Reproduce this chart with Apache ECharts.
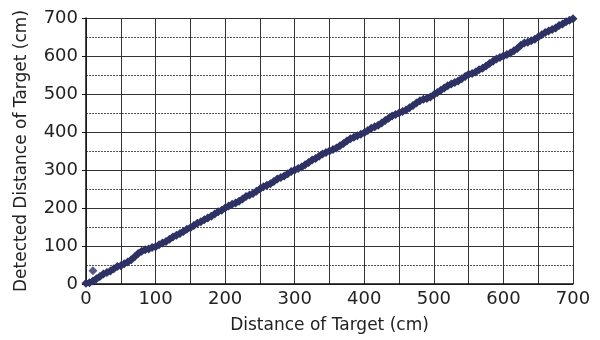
<!DOCTYPE html>
<html><head><meta charset="utf-8">
<script src="https://cdn.jsdelivr.net/npm/echarts@6/dist/echarts.min.js"></script>
<style>html,body{margin:0;padding:0;background:#fff}#c{width:600px;height:340px}</style>
</head><body><div id="c"></div>
<script>
var xTitle = "Distance of Target (cm)";
var yTitle = "Detected Distance of Target (cm)";
var actual = [0,5,10,15,20,25,30,35,40,45,50,55,60,65,70,75,80,85,90,95,100,105,110,115,120,125,130,135,140,145,150,155,160,165,170,175,180,185,190,195,200,205,210,215,220,225,230,235,240,245,250,255,260,265,270,275,280,285,290,295,300,305,310,315,320,325,330,335,340,345,350,355,360,365,370,375,380,385,390,395,400,405,410,415,420,425,430,435,440,445,450,455,460,465,470,475,480,485,490,495,500,505,510,515,520,525,530,535,540,545,550,555,560,565,570,575,580,585,590,595,600,605,610,615,620,625,630,635,640,645,650,655,660,665,670,675,680,685,690,695,700];
var detected = [2,3,8,14,20,26,30,34,40,46,48,53,58,64,72,80,86,90,92,96,98,103,108,112,118,124,128,133,138,144,148,154,160,164,169,174,178,184,190,194,200,205,210,213,218,224,230,234,238,244,250,256,260,264,270,276,280,284,290,296,300,304,308,314,320,326,330,336,342,346,350,354,358,364,370,376,382,386,390,394,398,404,410,414,418,424,430,436,442,446,450,454,458,464,470,476,482,486,488,492,498,504,510,516,522,526,530,534,540,546,552,554,558,564,568,574,580,586,592,596,600,604,608,614,620,628,634,636,640,644,650,656,662,666,670,674,680,684,690,694,698];
var outlierX = [10];
var outlierY = [35];

var pts = actual.map(function(v,i){return [v, detected[i]];});
var outs = outlierX.map(function(v,i){return [v, outlierY[i]];});

var chart = echarts.init(document.getElementById('c'), null, {renderer:'canvas'});
var font = 'DejaVu Sans, sans-serif';
chart.setOption({
  animation:false,
  grid:{left:86,right:27,top:18,bottom:56},
  xAxis:{type:'value',min:0,max:700,interval:50,
    name:xTitle,nameLocation:'middle',nameGap:33,
    nameTextStyle:{fontSize:17,color:'#222',fontFamily:font},
    axisLine:{lineStyle:{color:'#111',width:1.5}},
    axisTick:{show:false},
    axisLabel:{interval:1,fontSize:18,color:'#222',fontFamily:font,margin:6,
      formatter:function(v){return v%100===0?String(v):'';}},
    splitLine:{show:true,lineStyle:{color:'#333',width:1}}
  },
  yAxis:{type:'value',min:0,max:700,interval:100,
    name:yTitle,nameLocation:'middle',nameGap:56,
    nameTextStyle:{fontSize:17,color:'#222',fontFamily:font},
    axisLine:{show:true,lineStyle:{color:'#111',width:1.5}},
    axisTick:{show:true,length:4,inside:false,lineStyle:{color:'#111'}},
    axisLabel:{fontSize:18,color:'#222',fontFamily:font,margin:8},
    splitLine:{show:true,lineStyle:{color:'#333',width:1}},
    minorTick:{show:false,splitNumber:2},
    minorSplitLine:{show:true,lineStyle:{color:'#555',width:1,type:[2,1]}}
  },
  series:[
    {type:'line',data:pts,symbol:'diamond',symbolSize:9,showSymbol:true,
      itemStyle:{color:'#2e3163'},lineStyle:{color:'#2e3163',width:5}},
    {type:'scatter',data:outs,symbol:'diamond',symbolSize:9,itemStyle:{color:'#2e3163'}}
  ]
});
</script></body></html>
